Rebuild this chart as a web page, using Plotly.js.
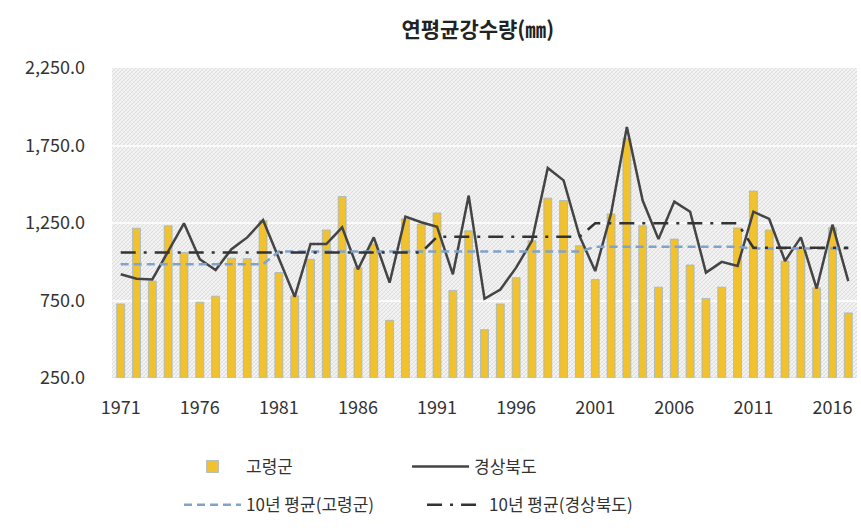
<!DOCTYPE html>
<html>
<head>
<meta charset="utf-8">
<script src="https://cdn.plot.ly/plotly-3.0.1.min.js"></script>
<style>
  html, body { margin: 0; padding: 0; background: #ffffff; }
  #chart { width: 861px; height: 528px; }
</style>
</head>
<body>
<div id="chart"></div>
<script>
// ---- data ----
const years = [1971,1972,1973,1974,1975,1976,1977,1978,1979,1980,
               1981,1982,1983,1984,1985,1986,1987,1988,1989,1990,
               1991,1992,1993,1994,1995,1996,1997,1998,1999,2000,
               2001,2002,2003,2004,2005,2006,2007,2008,2009,2010,
               2011,2012,2013,2014,2015,2016,2017];

// 고령군 annual precipitation (bars)
const goryeong = [728,1216,875,1232,1060,739,778,1023,1020,1265,
                  930,780,1016,1205,1421,962,1114,622,1276,1243,
                  1315,815,1200,562,728,897,1135,1410,1395,1103,
                  886,1308,1795,1232,836,1146,979,763,836,1218,
                  1456,1205,1005,1088,832,1220,670];

// 경상북도 annual precipitation (line)
const gyeongbuk = [919,891,886,1070,1248,1016,947,1081,1157,1269,
                   1016,774,1114,1114,1222,951,1157,865,1291,1255,
                   1226,919,1427,761,821,962,1135,1605,1525,1167,
                   940,1310,1870,1395,1146,1388,1323,930,999,973,
                   1323,1276,1005,1157,827,1239,875];

// 10년 평균(고령군)
const avgGoryeong = [984,984,984,984,984,984,984,984,984,984,
                     1066,1066,1066,1066,1066,1066,1066,1066,1066,1066,
                     1066,1066,1066,1066,1066,1066,1066,1066,1066,1066,
                     1096,1096,1096,1096,1096,1096,1096,1096,1096,1096,
                     1085,1085,1085,1085,1085,1085,1085];

// 10년 평균(경상북도)
const avgGyeongbuk = [1060,1060,1060,1060,1060,1060,1060,1060,1060,1060,
                      1060,1060,1060,1060,1060,1060,1060,1060,1060,1060,
                      1161,1161,1161,1161,1161,1161,1161,1161,1161,1161,
                      1248,1248,1248,1248,1248,1248,1248,1248,1248,1248,
                      1090,1090,1090,1090,1090,1090,1090];

const yTickStart = 250, yTickStep = 500;
const xTickStart = 1971, xTickStep = 5;

// ---- style ----
const FONT = '"Noto Sans CJK KR", "Noto Sans", sans-serif';

const hatch = 'data:image/svg+xml;utf8,' + encodeURIComponent(
  '<svg xmlns="http://www.w3.org/2000/svg" width="745" height="310">' +
  '<defs><pattern id="p" width="4" height="4" patternUnits="userSpaceOnUse">' +
  '<rect width="4" height="4" fill="#f4f4f4"/>' +
  '<path d="M0,4 L4,0 M-1,1 L1,-1 M3,5 L5,3" stroke="#d6d6d6" stroke-width="0.8"/>' +
  '<path d="M0,0 L4,4 M-1,3 L1,5 M3,-1 L5,1" stroke="#e2e2e2" stroke-width="0.6"/>' +
  '</pattern></defs><rect width="745" height="310" fill="url(#p)"/></svg>');

const traces = [
  {
    type: 'bar', name: '고령군', x: years, y: goryeong,
    marker: { color: '#f2c12e', line: { color: '#9fb6c6', width: 0.8 } },
    legend: 'legend', hoverinfo: 'x+y'
  },
  {
    type: 'scatter', mode: 'lines', name: '경상북도', x: years, y: gyeongbuk,
    line: { color: '#444444', width: 2.5 },
    legend: 'legend'
  },
  {
    type: 'scatter', mode: 'lines', name: '10년 평균(고령군)', x: years, y: avgGoryeong,
    line: { color: '#7fa3cc', width: 2.5, dash: '8px,5px' },
    legend: 'legend2'
  },
  {
    type: 'scatter', mode: 'lines', name: '10년 평균(경상북도)', x: years, y: avgGyeongbuk,
    line: { color: '#333333', width: 2.5, dash: '15px,8px,3px,8px' },
    legend: 'legend2'
  }
];

const layout = {
  width: 861, height: 528,
  margin: { l: 112, r: 4, t: 68, b: 150 },
  paper_bgcolor: '#ffffff',
  plot_bgcolor: 'rgba(0,0,0,0)',
  font: { family: FONT, color: '#333333', size: 15 },
  bargap: 0.5,
  title: {
    text: '연평균강수량(㎜)',
    font: { family: FONT, size: 21, color: '#222222', weight: 700 },
    xref: 'container', yref: 'container',
    x: 0.555, xanchor: 'center', y: 0.943, yanchor: 'middle'
  },
  xaxis: {
    range: [1970.45, 2017.55],
    tickmode: 'linear', tick0: xTickStart, dtick: xTickStep,
    showgrid: false, zeroline: false, showline: false,
    ticks: '', ticklabelstandoff: 17,
    tickfont: { family: FONT, size: 18, color: '#333333' }
  },
  yaxis: {
    range: [250, 2250],
    tickmode: 'linear', tick0: yTickStart, dtick: yTickStep,
    tickformat: ',.1f',
    showgrid: true, gridcolor: '#fafafa', gridwidth: 2,
    zeroline: false, showline: false,
    ticks: '', ticklabelstandoff: 26,
    tickfont: { family: FONT, size: 18, color: '#333333' }
  },
  showlegend: true,
  legend: {
    orientation: 'h', xref: 'paper', yref: 'paper',
    x: 0.09, xanchor: 'left', y: -0.287, yanchor: 'middle',
    entrywidth: 156, entrywidthmode: 'pixels',
    itemwidth: 57,
    font: { family: FONT, size: 17, color: '#333333' },
    bgcolor: 'rgba(0,0,0,0)'
  },
  legend2: {
    orientation: 'h', xref: 'paper', yref: 'paper',
    x: 0.09, xanchor: 'left', y: -0.41, yanchor: 'middle',
    entrywidth: 171, entrywidthmode: 'pixels',
    itemwidth: 57,
    font: { family: FONT, size: 17, color: '#333333' },
    bgcolor: 'rgba(0,0,0,0)'
  },
  images: [{
    source: hatch, xref: 'paper', yref: 'paper',
    x: 0, y: 1, sizex: 1, sizey: 1, sizing: 'stretch',
    xanchor: 'left', yanchor: 'top', layer: 'below'
  }],
  shapes: [{
    type: 'line', xref: 'paper', yref: 'y', x0: 0, x1: 1, y0: 250, y1: 250,
    line: { color: '#d9d9d9', width: 1 }, layer: 'below'
  }]
};

Plotly.newPlot('chart', traces, layout, { displayModeBar: false, staticPlot: true });
</script>
</body>
</html>
